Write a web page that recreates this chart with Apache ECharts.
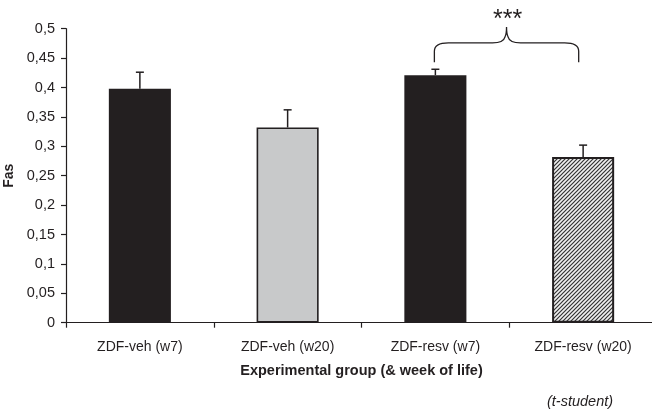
<!DOCTYPE html>
<html>
<head>
<meta charset="utf-8">
<script src="https://cdn.jsdelivr.net/npm/echarts@6/dist/echarts.min.js"></script>
<style>html,body{margin:0;padding:0;background:#fff;}#c{width:652px;height:412px;}</style>
</head>
<body>
<div id="c"></div>
<script>
const categories = ['ZDF-veh (w7)', 'ZDF-veh (w20)', 'ZDF-resv (w7)', 'ZDF-resv (w20)'];
const means = [0.398, 0.332, 0.421, 0.282];
const errUpper = [0.426, 0.362, 0.431, 0.302];
// bracket: from group index, to group index, level, end level, peak level
const bracket = [2, 3, 0.476, 0.443, 0.503];
const sigLabel = '***';
const yAxisName = 'Fas';
const xAxisName = 'Experimental group (& week of life)';
const noteText = '(t-student)';

const ink = '#231f20';

function hatch() {
  const c = document.createElement('canvas');
  c.width = 4; c.height = 4;
  const g = c.getContext('2d');
  g.fillStyle = '#f0f0f0';
  g.fillRect(0, 0, 4, 4);
  g.strokeStyle = '#333';
  g.lineWidth = 1.2;
  g.beginPath();
  g.moveTo(-1, 5); g.lineTo(5, -1);
  g.moveTo(-1, 1); g.lineTo(1, -1);
  g.moveTo(3, 5); g.lineTo(5, 3);
  g.stroke();
  return c;
}

const barStyles = [
  { color: ink, borderColor: ink, borderWidth: 0 },
  { color: '#c8c9ca', borderColor: ink, borderWidth: 1.6 },
  { color: ink, borderColor: ink, borderWidth: 0 },
  { color: { image: hatch(), repeat: 'repeat' }, borderColor: ink, borderWidth: 2 }
];

const chart = echarts.init(document.getElementById('c'), null, { renderer: 'canvas' });
const font = '"Liberation Sans", Arial, sans-serif';

chart.setOption({
  animation: false,
  backgroundColor: '#fff',
  grid: { left: 66, top: 28.7, width: 591, height: 294, containLabel: false, outerBoundsMode: 'none' },
  xAxis: {
    type: 'category',
    data: categories,
    boundaryGap: true,
    name: xAxisName,
    nameLocation: 'middle',
    nameGap: 41,
    nameTextStyle: { fontFamily: font, fontSize: 14.5, fontWeight: 'bold', color: ink },
    axisLine: { lineStyle: { color: ink, width: 1.2 } },
    axisTick: { show: true, length: 5, lineStyle: { color: ink, width: 1.2 } },
    axisLabel: { margin: 17, fontFamily: font, fontSize: 14, color: ink }
  },
  yAxis: {
    type: 'value',
    min: 0, max: 0.5, interval: 0.05,
    name: yAxisName,
    nameLocation: 'middle',
    nameGap: 47,
    nameTextStyle: { fontFamily: font, fontSize: 14, fontWeight: 'bold', color: ink },
    axisLine: { show: true, lineStyle: { color: ink, width: 1.2 } },
    axisTick: { show: true, length: 5, lineStyle: { color: ink, width: 1.2 } },
    splitLine: { show: false },
    axisLabel: {
      margin: 11, fontFamily: font, fontSize: 14.5, color: ink,
      formatter: v => String(+v.toFixed(2)).replace('.', ',')
    }
  },
  series: [
    {
      type: 'bar',
      barWidth: '42%',
      data: means.map((v, i) => ({ value: v, itemStyle: barStyles[i] })),
      z: 2
    },
    {
      type: 'custom',
      z: 3,
      data: means.map((v, i) => [i, v, errUpper[i]]),
      renderItem: (params, api) => {
        const base = api.coord([api.value(0), api.value(1)]);
        const top = api.coord([api.value(0), api.value(2)]);
        const half = 4;
        const style = { stroke: ink, lineWidth: 1.5 };
        return {
          type: 'group',
          children: [
            { type: 'line', shape: { x1: base[0], y1: base[1], x2: top[0], y2: top[1] }, style },
            { type: 'line', shape: { x1: top[0] - half, y1: top[1], x2: top[0] + half, y2: top[1] }, style }
          ]
        };
      }
    },
    {
      type: 'custom',
      z: 4,
      clip: false,
      data: [bracket],
      renderItem: (params, api) => {
        const a = api.coord([api.value(0), api.value(2)]);
        const b = api.coord([api.value(1), api.value(2)]);
        const band = api.size([1, 0])[0];
        const x1 = a[0] - 1;
        const x2 = b[0] - band * 0.03;
        const yl = a[1];
        const ye = api.coord([api.value(0), api.value(3)])[1];
        const yp = api.coord([api.value(0), api.value(4)])[1];
        const xm = (x1 + x2) / 2;
        const r = 14;
        const path =
          `M${x1},${ye} L${x1},${yl + r * 0.6} Q${x1},${yl} ${x1 + r},${yl} ` +
          `L${xm - r},${yl} Q${xm - 3},${yl} ${xm - 1.5},${yl - 6} Q${xm},${yl - 9} ${xm},${yp} ` +
          `M${xm},${yp} Q${xm},${yl - 9} ${xm + 1.5},${yl - 6} Q${xm + 3},${yl} ${xm + r},${yl} ` +
          `L${x2 - r},${yl} Q${x2},${yl} ${x2},${yl + r * 0.6} L${x2},${ye}`;
        return {
          type: 'group',
          children: [
            { type: 'path', shape: { pathData: path }, style: { stroke: ink, fill: null, lineWidth: 1.3 } },
            { type: 'text', x: xm + 1, y: yp + 6, style: {
                text: sigLabel, fill: ink, font: '25px ' + font,
                textAlign: 'center', textVerticalAlign: 'bottom' } }
          ]
        };
      }
    }
  ],
  graphic: [
    { type: 'text', left: 547, top: 394,
      style: { text: noteText, fill: ink, font: 'italic 14.5px ' + font } }
  ]
});
</script>
</body>
</html>
